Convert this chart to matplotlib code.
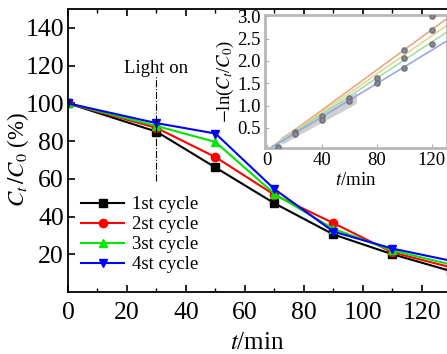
import matplotlib.pyplot as plt

plt.rcParams['font.family'] = ['Liberation Serif', 'DejaVu Serif']
plt.rcParams['mathtext.fontset'] = 'stix'

# main data: relative concentration vs time
t = [0, 30, 50, 70, 90, 110, 130]
cycle1 = [100, 85, 66, 47, 30.5, 20, 11]
cycle2 = [100, 87, 71.5, 51.5, 36.5, 21, 13]
cycle3 = [100, 88, 79.5, 52, 33.5, 22, 14.5]
cycle4 = [100, 89.5, 84, 54.5, 32, 23, 16.5]
labels = ['1st cycle', '2st cycle', '3st cycle', '4st cycle']

# inset data: -ln(Ct/C0) points and fitted lines
ins_t = [8, 20, 20, 40, 40, 60, 60, 80, 80, 100, 100, 100, 120, 120, 120]
ins_y = [0.07, 0.41, 0.36, 0.77, 0.68, 1.17, 1.10, 1.62, 1.50, 2.25, 2.06, 1.85, 3.0, 2.7, 2.37]
fit_t = [0, 131]
fit_ends = [2.95, 2.8, 2.65, 2.45]
band_t = [10, 65]
band_lo = [0.12, 1.05]
band_hi = [0.30, 1.30]

fig = plt.figure(figsize=(4.47, 3.54), dpi=100)
ax = fig.add_axes([68 / 447, 62 / 354, 379 / 447, 283 / 354])

colors = ['black', '#ff0000', '#00e600', '#0000ff']
markers = ['s', 'o', '^', 'v']
for ys, c, m, lab in zip([cycle1, cycle2, cycle3, cycle4], colors, markers, labels):
    ax.plot(t, ys, color=c, marker=m, markersize=6, lw=1.5, label=lab)

ax.plot([30, 30], [59, 115], color='black', lw=0.8, ls='-.')
ax.text(30, 114, 'Light on', ha='center', va='bottom', fontsize=13.5)

ax.set_xlim(0, 128.5)
ax.set_ylim(0, 150)
ax.set_xticks([0, 20, 40, 60, 80, 100, 120])
ax.set_xticks(range(10, 130, 20), minor=True)
ax.set_yticks([20, 40, 60, 80, 100, 120, 140])
ax.tick_params(direction='in', labelsize=18.5, width=1.2, length=5, top=True)
ax.tick_params(axis='y', pad=3)
ax.tick_params(axis='x', pad=7)
ax.tick_params(which='minor', direction='in', width=1.0, length=3, top=True)
for s in ['left', 'bottom', 'top']:
    ax.spines[s].set_linewidth(1.3)
ax.spines['right'].set_visible(False)
ax.set_xlabel('$t$/min', fontsize=18, labelpad=6)
ax.set_ylabel('$C_t\\,/C_0$ (%)', fontsize=16.5)
ax.yaxis.set_label_coords(-0.098, 0.47)

ax.legend(loc='upper left', bbox_to_anchor=(0.0, 0.385), frameon=False, fontsize=13.5,
          handlelength=2.3, labelspacing=0.15, handletextpad=0.4, borderaxespad=0.3)

# inset
ins = fig.add_axes([265 / 447, 206 / 354, 182 / 447, 133 / 354])
ins.fill_between(band_t, band_lo, band_hi, color='#b0b0b0', alpha=0.6, lw=0)
fit_colors = ['#e8a888', '#e0d890', '#a8dca8', '#9aa8e8']
for end, c in zip(fit_ends, fit_colors):
    ins.plot(fit_t, [0, end], color=c, lw=1.2)
ins.scatter(ins_t, ins_y, s=14, color='#8a8a8a', edgecolors='#707080', zorder=3)
ins.set_xlim(-1.5, 131)
ins.set_ylim(0.05, 3.03)
ins.set_xticks([0, 40, 80, 120])
ins.set_yticks([0.5, 1.0, 1.5, 2.0, 2.5, 3.0])
ins.tick_params(direction='in', labelsize=13.5, color='#b0b0b0', length=3, pad=3)
for s in ins.spines.values():
    s.set_color('#b8b8b8')
    s.set_linewidth(2)
ins.set_xlabel('$t$/min', fontsize=13.5, labelpad=2)
ins.set_ylabel('$-$ln($C_t$/$C_0$)', fontsize=13.5, labelpad=1)

fig.savefig('out.png', dpi=100)
